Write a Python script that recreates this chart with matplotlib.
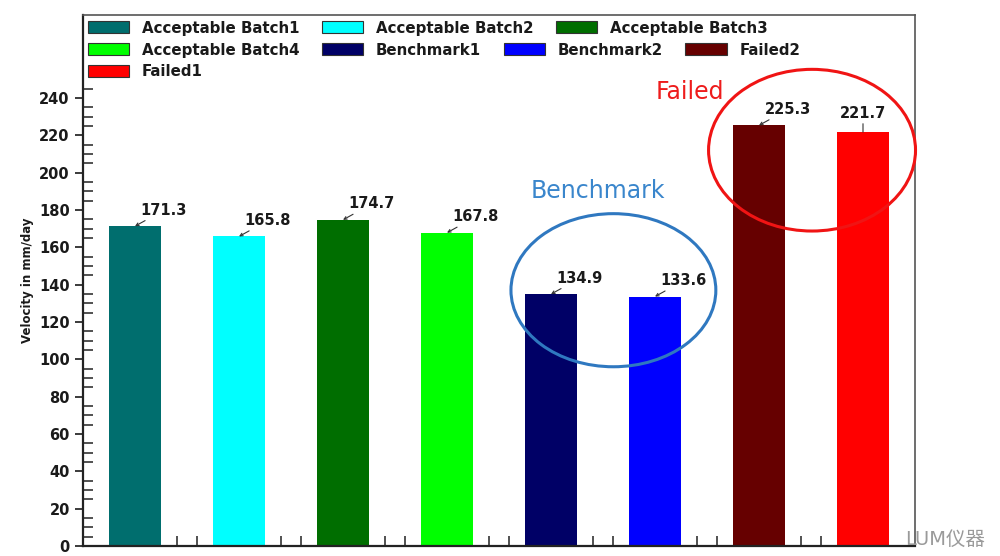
"""Velocity bar chart with benchmark / failed groups highlighted."""

import matplotlib
matplotlib.use('Agg')

import matplotlib.pyplot as plt
from matplotlib.legend import Legend
from matplotlib.patches import Ellipse, Patch
from matplotlib.ticker import FixedLocator

# data
names = ["Acceptable Batch1", "Acceptable Batch2", "Acceptable Batch3",
         "Acceptable Batch4", "Benchmark1", "Benchmark2", "Failed2", "Failed1"]
velocity = [171.3, 165.8, 174.7, 167.8, 134.9, 133.6, 225.3, 221.7]
colors = ["#006e6e", "#00ffff", "#006e00", "#00ff00",
          "#000066", "#0000ff", "#660000", "#ff0000"]
legend_rows = [[0, 1, 2], [3, 4, 5, 6], [7]]

plt.rcParams['font.family'] = ['DejaVu Sans', 'Noto Sans CJK SC']

fig = plt.figure(figsize=(10, 5.56), dpi=100)
ax = fig.add_axes([0.083, 0.018, 0.832, 0.955])

x = list(range(len(velocity)))
ax.bar(x, velocity, width=0.5, color=colors, zorder=2)

ax.set_xlim(-0.5, len(velocity) - 0.5)
ax.set_ylim(0, 284.4)

# value labels with small leader arrows (last one sits centred, near the edge)
for i, v in zip(x, velocity):
    last = i == len(velocity) - 1
    ax.annotate(f"{v}", xy=(i, v), xytext=(0, 8) if last else (4, 6),
                textcoords='offset points', ha='center' if last else 'left',
                va='bottom', fontsize=10.5, fontweight='bold', color='#1a1a1a',
                arrowprops=dict(arrowstyle='-' if last else '->',
                                color='#333333', lw=0.8,
                                shrinkA=0, shrinkB=0, mutation_scale=5))

# axes styling
ax.yaxis.set_major_locator(FixedLocator(list(range(0, 260, 20))))
ax.yaxis.set_minor_locator(FixedLocator([t for t in range(5, 250, 5) if t % 20]))
ax.tick_params(axis='y', which='major', direction='out', length=6, width=1.2,
               labelsize=10.5, colors='#1a1a1a')
ax.tick_params(axis='y', which='minor', direction='in', length=7, width=1.2,
               colors='#333333')
for lab in ax.get_yticklabels():
    lab.set_fontweight('bold')

bounds = []
for b in range(len(velocity) - 1):
    bounds += [b + 0.4, b + 0.6]
ax.xaxis.set_major_locator(FixedLocator(bounds))
ax.tick_params(axis='x', which='major', direction='in', length=7, width=1.2,
               labelbottom=False, colors='#333333')

for side in ['left', 'bottom']:
    ax.spines[side].set_linewidth(1.6)
    ax.spines[side].set_color('#222222')
for side in ['top', 'right']:
    ax.spines[side].set_linewidth(1.2)
    ax.spines[side].set_color('#555555')

ax.set_ylabel("Velocity in mm/day", fontsize=8.5, fontweight='bold',
              color='#1a1a1a', labelpad=4)

# legend rows (flowing like the original)
row_y = [0.9755, 0.934, 0.893]
for row, yy in zip(legend_rows, row_y):
    handles = [Patch(facecolor=colors[k], edgecolor='#333333', lw=0.8,
                     label=names[k]) for k in row]
    leg = Legend(ax, handles, [names[k] for k in row], ncol=len(handles),
                 loc='center left', bbox_to_anchor=(0.006, yy), frameon=False,
                 borderpad=0, borderaxespad=0, handlelength=2.75,
                 handleheight=0.85, handletextpad=0.85, columnspacing=1.5,
                 prop={'size': 10.8, 'weight': 'bold'})
    for t in leg.get_texts():
        t.set_color('#1a1a1a')
    ax.add_artist(leg)

# highlight circles
ax.add_patch(Ellipse((4.6, 137), 1.97, 82, fill=False, edgecolor='#2f78c0',
                     lw=2.2, zorder=3, clip_on=False))
ax.add_patch(Ellipse((6.51, 212), 1.99, 86.6, fill=False, edgecolor='#f01414',
                     lw=2.2, zorder=3, clip_on=False))
ax.text(4.45, 190, "Benchmark", color='#3a86cc', fontsize=17,
        ha='center', va='center')
ax.text(5.34, 243, "Failed", color='#ee1c1c', fontsize=17,
        ha='center', va='center')

# watermark
fig.text(0.905, 0.012, "LUM仪器", color='#9a9a9a', fontsize=14,
         family=['DejaVu Sans', 'Noto Sans CJK SC'], ha='left', va='bottom')

fig.savefig("out.png", dpi=100)
